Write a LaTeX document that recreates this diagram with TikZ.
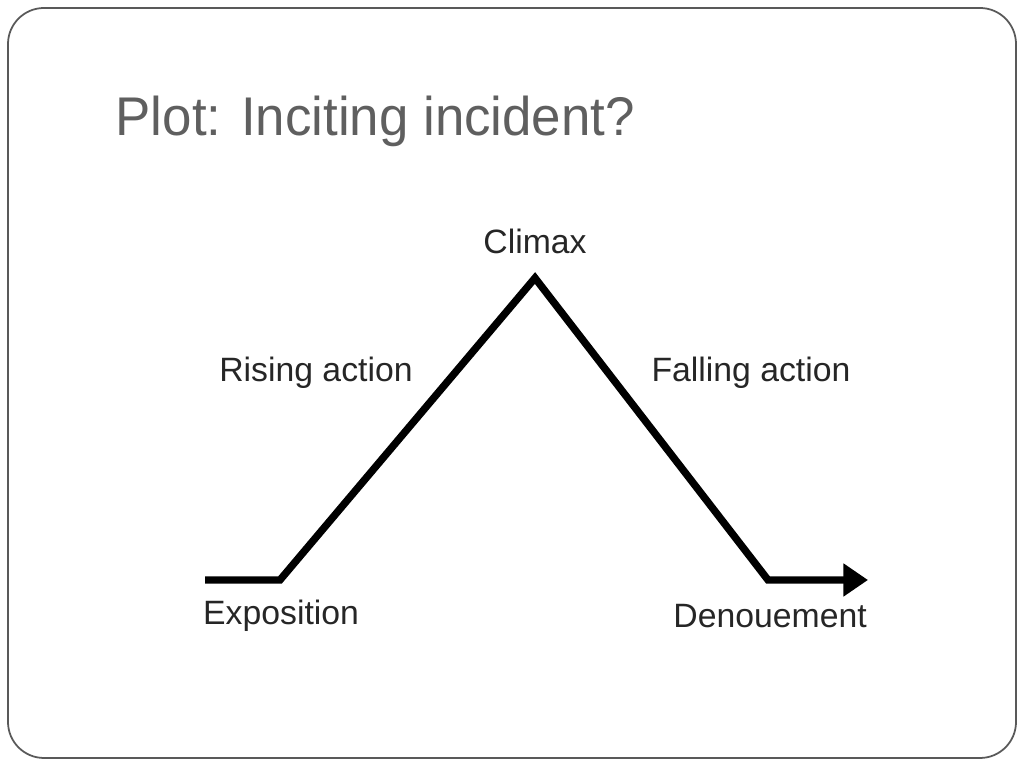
\documentclass[tikz,border=0pt]{standalone}
\usepackage{fontspec}
\setmainfont{Liberation Sans}
\usetikzlibrary{arrows.meta,positioning}
\definecolor{titlegray}{HTML}{5F5F5F}
\definecolor{inkgray}{HTML}{262626}
\tikzset{
  >=Triangle,
  frame/.style={draw=black!65,line width=0.5pt,rounded corners=0.36cm},
  heading/.style={anchor=base west,inner sep=0pt,
                  font=\addfontfeature{FakeStretch=0.97}\fontsize{15.5}{18}\selectfont,text=titlegray},
  stage/.style={inner sep=1pt,font=\fontsize{9.6}{11}\selectfont,text=inkgray},
  plotline/.style={line width=2.1pt,line join=miter},
}
\begin{document}
\begin{tikzpicture}[x=0.01cm,y=-0.01cm]
    \useasboundingbox (0,0) rectangle (1024,768);
    \draw[frame] (8,8) rectangle (1016,758);

    \node[heading] (TITLE) at (115,136) {Plot: Inciting incident?};

    % the plot line
    \coordinate (START) at (205,580);
    \coordinate (EXPO)  at (280,580);
    \coordinate (PEAK)  at (535,278);
    \coordinate (DENO)  at (768,580);
    \coordinate (END)   at (868,580);

    \draw[plotline,-{Triangle[length=7pt,width=9pt]}]
      (START) -- (EXPO) -- (PEAK) -- (DENO) -- (END);

    \node[stage,above=0.2cm of PEAK]       (CLIMAX)  {Climax};
    \node[stage] at (316,373)              (RISING)  {Rising action};
    \node[stage] at (751,373)              (FALLING) {Falling action};
    \node[stage,below right=0.16cm and -0.06cm of START] (EXPOSITION) {Exposition};
    \node[stage,below left=0.2cm and -0.03cm of END]    (DENOUEMENT) {Denouement};
\end{tikzpicture}
\end{document}
